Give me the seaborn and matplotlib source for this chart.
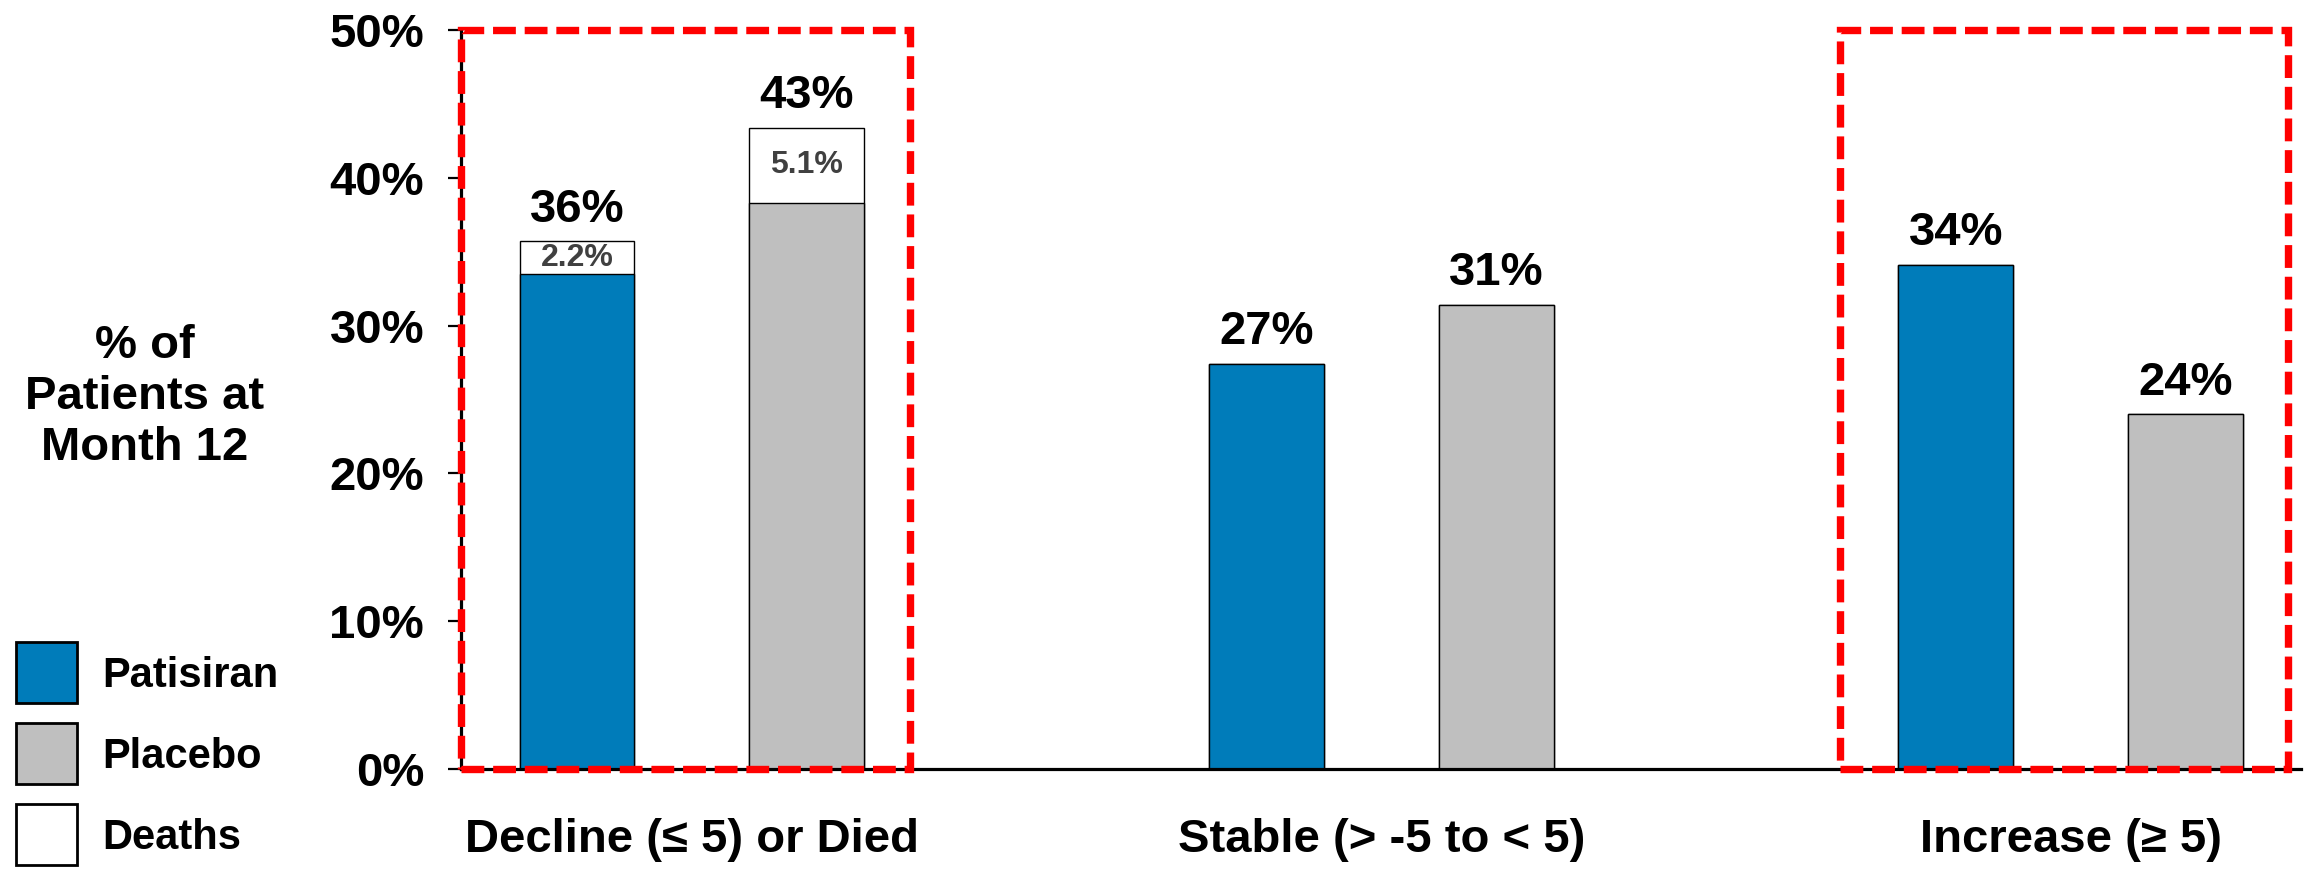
import matplotlib
matplotlib.use("Agg")
import matplotlib.pyplot as plt
from matplotlib.patches import Rectangle
import pandas as pd
import seaborn as sns

# ---- data -------------------------------------------------------------
categories = ["Decline (≤ 5) or Died", "Stable (> -5 to < 5)", "Increase (≥ 5)"]
arms = ["Patisiran", "Placebo"]
patisiran_alive = [33.5, 27.4, 34.1]
placebo_alive = [38.3, 31.4, 24.0]
patisiran_deaths = [2.2, 0.0, 0.0]
placebo_deaths = [5.1, 0.0, 0.0]
y_ticks = [0, 10, 20, 30, 40, 50]

# ---- style ------------------------------------------------------------
BLUE = "#007CBA"
GREY = "#BFBFBF"
RED = "#FF0000"
sns.set_theme(style="white")
plt.rcParams["font.family"] = ["Liberation Sans", "DejaVu Sans"]
plt.rcParams["font.weight"] = "bold"
plt.rcParams["text.color"] = "black"
plt.rcParams["axes.labelcolor"] = "black"
plt.rcParams["xtick.color"] = "black"
plt.rcParams["ytick.color"] = "black"

W, H = 2308, 869
fig = plt.figure(figsize=(W / 100, H / 100), dpi=100)
ax = fig.add_axes([461 / W, 1 - 769 / H, (2301 - 461) / W, (769 - 30) / H])

rows = []
for i, c in enumerate(categories):
    rows.append({"category": c, "arm": "Patisiran",
                 "alive": patisiran_alive[i], "deaths": patisiran_deaths[i]})
    rows.append({"category": c, "arm": "Placebo",
                 "alive": placebo_alive[i], "deaths": placebo_deaths[i]})
df = pd.DataFrame(rows)
df["total"] = df["alive"] + df["deaths"]

bar_kw = dict(x="category", hue="arm", order=categories, hue_order=arms,
              width=0.667, gap=0.5, errorbar=None, edgecolor="black",
              linewidth=1.0, saturation=1, legend=False, ax=ax)

# white "deaths" segment: full stacked height drawn first
sns.barplot(data=df, y="total", palette={"Patisiran": "white", "Placebo": "white"},
            **bar_kw)
# coloured segment for patients alive, drawn on top
sns.barplot(data=df, y="alive", palette={"Patisiran": BLUE, "Placebo": GREY},
            **bar_kw)

# value labels
for arm, cont in zip(arms, ax.containers[-2:]):
    sub = df[df["arm"] == arm].set_index("category").loc[categories]
    for bar, alive, deaths in zip(cont, sub["alive"], sub["deaths"]):
        xc = bar.get_x() + bar.get_width() / 2
        total = alive + deaths
        ax.annotate(f"{round(total):.0f}%", (xc, total), xytext=(0, 7),
                    textcoords="offset points", ha="center", va="bottom",
                    fontsize=34, fontweight="bold", color="black")
        if deaths > 0:
            ax.text(xc, alive + deaths / 2, f"{deaths:.1f}%", ha="center",
                    va="center", fontsize=23, fontweight="bold", color="#404040")

# axes
ax.set_xlim(-0.335, 2.334)
ax.set_ylim(0, 50)
ax.set_yticks(y_ticks)
ax.set_yticklabels([f"{t}%" for t in y_ticks])
ax.set_xlabel("")
ax.set_ylabel("")
for s in ["top", "right"]:
    ax.spines[s].set_visible(False)
for s in ["left", "bottom"]:
    ax.spines[s].set_color("black")
    ax.spines[s].set_linewidth(2.3)
ax.tick_params(axis="y", which="major", length=9.5, width=1.6, color="black",
               direction="out", left=True, labelsize=34, pad=17,
               labelcolor="black")
ax.tick_params(axis="x", length=0, labelsize=34, pad=35, labelcolor="black")
for lab in ax.get_xticklabels() + ax.get_yticklabels():
    lab.set_fontweight("bold")
    lab.set_color("black")

# highlighted groups (dashed red frames)
for x0, x1 in [(-0.335, 0.316), (1.666, 2.315)]:
    ax.add_patch(Rectangle((x0, 0), x1 - x0, 50, fill=False, edgecolor=RED,
                           linewidth=5.3, linestyle=(0, (3.1, 1.2)),
                           clip_on=False, zorder=5))

# y-axis title
fig.text(145 / W, 1 - 397 / H, "% of\nPatients at\nMonth 12", ha="center",
         va="center", multialignment="center", fontsize=34, fontweight="bold",
         linespacing=1.2, color="black")

# legend
for k, (name, col) in enumerate([("Patisiran", BLUE), ("Placebo", GREY),
                                  ("Deaths", "white")]):
    top = 642 + 81 * k
    fig.add_artist(Rectangle((16 / W, 1 - (top + 61) / H), 61 / W, 61 / H,
                             transform=fig.transFigure, facecolor=col,
                             edgecolor="black", linewidth=2))
    fig.text(102 / W, 1 - (top + 30 + 15) / H, name, ha="left", va="baseline",
             fontsize=30, fontweight="bold", color="black")

fig.savefig("out.png", dpi=100)
